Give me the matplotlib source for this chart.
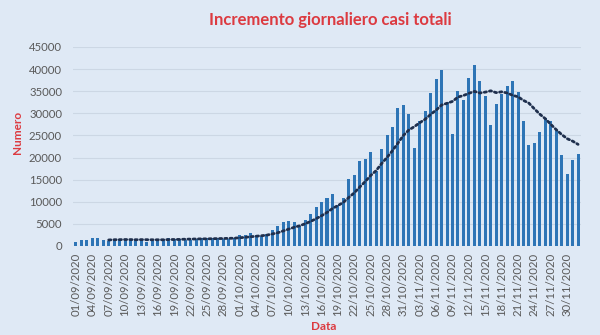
import numpy as np
import matplotlib.pyplot as plt
import pandas as pd

# Nuovi casi giornalieri, 01/09/2020 - 02/12/2020
sett = [978, 1326, 1397, 1733, 1695, 1297, 1108, 1370, 1434, 1597,
        1616, 1501, 1458, 1008, 1229, 1452, 1585, 1907, 1638, 1587,
        1350, 1392, 1640, 1786, 1912, 1869, 1766, 1494, 1648, 1851]
ott = [2548, 2499, 2844, 2578, 2257, 2677, 3678, 4458, 5372, 5724,
       5456, 4619, 5901, 7332, 8804, 10010, 10925, 11705, 9338, 10874,
       15199, 16079, 19143, 19644, 21273, 17012, 21994, 24991, 26831, 31084,
       31758]
nov = [29907, 22253, 28244, 30550, 34505, 37809, 39811, 32616, 25271, 35098,
       32961, 37978, 40902, 37255, 33979, 27354, 32191, 34283, 36176, 37242,
       34767, 28337, 22930, 23232, 25853, 29003, 28352, 26323, 20648, 16377]
dic = [19350, 20709]

casi = pd.Series(sett + ott + nov + dic)
date = pd.date_range("2020-09-01", periods=len(casi), freq="D")
etichette = [d.strftime("%d/%m/%Y") for d in date]

# media mobile a 7 giorni
media7 = casi.rolling(7).mean()

bg = "#dfe9f5"
rosso = "#dc3a40"
grigio = "#595959"

fig = plt.figure(figsize=(6, 3.35), dpi=100, facecolor=bg)
ax = fig.add_axes([0.122, 0.2657, 0.846, 0.5943], facecolor=bg)

x = np.arange(len(casi))
ax.bar(x, casi, width=0.55, color="#2e75b6", zorder=3)
ax.plot(x, media7, color="#1f2f4d", lw=2, linestyle=(0, (0.8, 1.1)),
        dash_capstyle="round", zorder=4)

ax.set_xlim(-0.5, len(casi) - 0.5)
ax.set_ylim(0, 45000)
ax.set_yticks(np.arange(0, 45001, 5000))
ax.set_xticks(x[::3])
ax.set_xticklabels(etichette[::3], rotation=90)
ax.tick_params(length=0, labelsize=8.2, labelcolor=grigio)
ax.tick_params(axis="y", pad=8)
ax.tick_params(axis="x", pad=5)
for lab in ax.get_xticklabels() + ax.get_yticklabels():
    lab.set_family("Lato")

ax.grid(axis="y", color="#ccd7e4", lw=0.8, zorder=0)
for s in ax.spines.values():
    s.set_visible(False)

fig.text(0.55, 1 - 20 / 335, "Incremento giornaliero casi totali", color=rosso,
         fontsize=12, fontweight="bold", family="Lato", ha="center", va="center")
fig.text(18 / 600, 1 - 132 / 335, "Numero", color=rosso, fontsize=8.5,
         fontweight="bold", family="Lato", rotation=90, ha="center", va="center")
fig.text(324 / 600, 1 - 327 / 335, "Data", color=rosso, fontsize=8.5,
         fontweight="bold", family="Lato", ha="center", va="center")

fig.savefig("out.png", dpi=100, facecolor=bg)
